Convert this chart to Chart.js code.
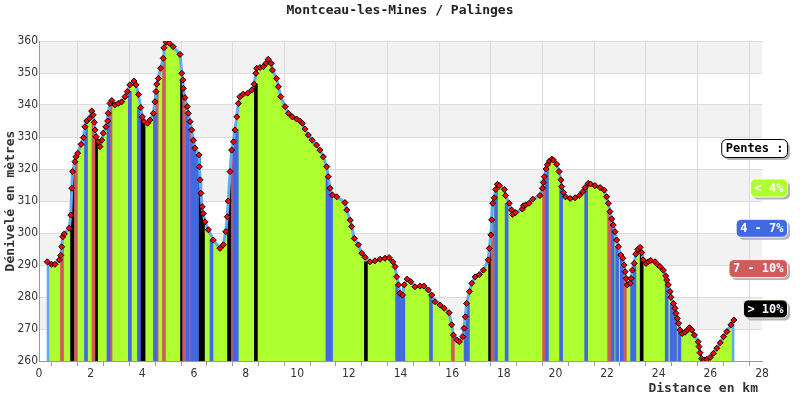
<!DOCTYPE html>
<html>
<head>
<meta charset="utf-8">
<script src="https://cdn.jsdelivr.net/npm/chart.js@4/dist/chart.umd.min.js"></script>
<style>
  body { margin: 0; background: #fff; }
</style>
</head>
<body>
<canvas id="profil" width="800" height="400"></canvas>
<script>
// Profil : distance (km) et altitude (m)
const distKm = [0.32,0.49,0.62,0.79,0.84,0.88,0.92,0.98,1.17,1.23,1.27,1.30,1.39,1.43,1.50,1.63,1.72,1.78,1.85,1.95,
  2.04,2.10,2.14,2.17,2.21,2.30,2.36,2.43,2.49,2.59,2.66,2.68,2.75,2.82,2.94,3.07,3.20,3.33,3.42,3.52,
  3.68,3.76,3.85,3.94,4.00,4.07,4.21,4.30,4.43,4.49,4.53,4.56,4.62,4.71,4.81,4.84,4.92,5.05,5.20,5.46,
  5.53,5.57,5.59,5.65,5.74,5.78,5.85,5.91,5.98,6.04,6.20,6.21,6.24,6.27,6.32,6.36,6.43,6.56,6.75,7.01,
  7.14,7.23,7.29,7.33,7.40,7.46,7.53,7.59,7.66,7.72,7.78,7.91,8.08,8.24,8.33,8.40,8.43,8.56,8.69,8.79,
  8.88,8.99,9.04,9.20,9.27,9.36,9.53,9.66,9.81,9.98,10.11,10.20,10.30,10.43,10.58,10.75,10.88,11.01,11.14,11.20,
  11.27,11.36,11.53,11.85,11.92,12.05,12.11,12.21,12.37,12.50,12.63,12.82,13.01,13.21,13.40,13.56,13.70,13.79,13.85,13.92,
  13.98,14.08,14.14,14.26,14.40,14.56,14.76,14.91,15.08,15.21,15.34,15.53,15.69,15.88,15.98,16.05,16.18,16.28,16.41,16.46,
  16.51,16.56,16.67,16.76,16.89,17.05,17.21,17.40,17.44,17.50,17.53,17.57,17.63,17.69,17.75,17.83,18.02,18.07,18.21,18.30,
  18.34,18.46,18.72,18.76,18.85,18.98,19.12,19.40,19.50,19.53,19.57,19.64,19.69,19.77,19.86,19.92,20.05,20.14,20.21,20.24,
  20.31,20.39,20.57,20.76,20.93,21.06,21.15,21.27,21.36,21.53,21.73,21.89,21.98,22.05,22.11,22.18,22.24,22.31,22.37,22.44,
  22.53,22.61,22.66,22.70,22.74,22.78,22.89,22.93,22.98,23.05,23.11,23.19,23.28,23.34,23.40,23.51,23.60,23.69,23.86,23.95,
  24.05,24.18,24.27,24.31,24.37,24.44,24.47,24.57,24.63,24.67,24.72,24.77,24.82,24.91,25.02,25.11,25.19,25.28,25.38,25.53,
  25.56,25.60,25.66,25.75,25.86,25.99,26.12,26.25,26.38,26.51,26.64,26.80,26.91];
const altitude = [291,290.2,290.2,291.6,293,295.7,298.8,299.7,301.5,305.6,314,319.2,322.3,323.8,324.9,327.7,329.8,333.2,335,335.8,
  338.1,336.9,334.6,332.2,330.1,328.5,327,329,331.2,333.2,335,337.4,340.5,341.4,340,340.5,341,342.6,344.2,346.3,
  347.5,346.3,343.3,339.2,336.3,334.8,334.3,335.3,337.4,341,344.2,346.5,348.3,351.5,354.6,357.9,359.6,359.3,358.2,355.8,
  349.9,347.8,345.2,342.3,339.5,337.4,334.8,332.2,329,326.5,324.4,320.7,316.6,312.4,308.2,306.1,303.5,301,297.8,295.2,
  296.3,300.4,305.1,310,319.2,325.9,328.5,332.2,336.3,340.5,342.6,343.4,343.7,344.7,346.5,349.9,351.5,351.7,352,353,
  354.3,353,350.9,348.3,345.7,342.6,339.5,337.4,336.3,335.6,335,334.3,332.5,330.6,329,327.5,325.9,323.8,320.7,317.6,
  314,311.9,311.3,309.5,307.2,304,302,298.3,296.3,293.7,292.4,291,291.3,291.8,292.1,292.3,291,289.5,286.3,283.8,
  281.2,280.6,283.8,285.6,284.8,283.2,283.4,283.4,282.2,280.6,278.5,277.5,276.5,275.1,271.3,268.1,266.6,266,267.6,270.2,
  273.8,278,281.7,284.3,286.3,287,288.4,291.6,295.2,299.4,304.1,309.3,311,313.6,315.2,314.8,313.6,311.7,309.3,307.2,
  305.8,306.4,307.5,308.5,308.8,309.3,310.6,311.7,314,315.8,317.6,320,321.3,322.5,323.1,322.8,321.5,319.2,316.6,314.5,
  312.7,311.3,310.8,311,311.7,312.9,314.2,315.5,315.3,314.8,314.2,313.4,311.3,309.3,306.7,304.4,302.5,300.4,297.8,295.7,
  293.1,292.1,290,287.9,285.8,283.8,284.3,285.8,288.4,290.5,293.4,294.9,295.5,293.9,291.6,290.5,291,291.4,291,290.2,
  289.5,288.4,286.6,285.3,283.8,281.7,279.9,278,276.5,274.9,273.3,271.8,269.7,268.6,269,269.7,270.4,269.7,268.1,266,
  264.5,262.6,260.8,260.3,260.5,261.1,262.4,264,265.7,267.6,269.2,271.3,272.8];

// Bandes de pente : position (km) et classe (c = bord, b = 4-7%, r = 7-10%, k = >10%)
const stripeKm = [0.35,0.89,1.28,1.36,1.43,1.82,2.11,2.21,2.69,2.77,3.52,3.87,3.97,4.05,4.49,4.56,4.84,5.54,5.62,5.75,
  5.85,5.93,6.02,6.12,6.20,6.29,6.35,6.68,7.36,7.44,7.51,7.57,7.66,8.40,11.17,11.24,11.31,12.66,13.87,13.98,
  14.11,15.18,16.03,16.52,16.61,17.47,17.56,17.70,18.11,19.56,19.61,19.67,20.22,21.19,22.08,22.22,22.39,22.57,22.69,22.97,
  23.06,23.34,24.31,24.50,24.63,24.80,26.88];
const stripeClass = ['c','r','k','k','r','b','r','k','b','r','b','b','k','k','b','r','r','k','r','b',
  'r','b','b','b','k','k','k','b','k','k','r','b','b','k','b','r','b','k','b','b',
  'b','b','r','b','b','k','r','b','b','r','k','b','b','b','r','b','b','b','r','b',
  'b','k','b','b','b','b','c'];

const xTicks = [0, 28];
const yTicks = [260, 360];
const legendLabels = ['< 4%', '4 - 7%', '7 - 10%', '> 10%'];

const classColors = { g: '#adff2f', b: '#4169e1', r: '#cd5c5c', k: '#000000', c: '#64aaf0' };
const legendColors = [classColors.g, classColors.b, classColors.r, classColors.k];

function topAt(x) {
  for (let i = 0; i < distKm.length - 1; i++) {
    if (x >= distKm[i] && x <= distKm[i + 1]) return Math.min(altitude[i], altitude[i + 1]);
  }
  return x < distKm[0] ? altitude[0] : altitude[altitude.length - 1];
}

function stripeSet(cls) {
  const pts = [];
  stripeKm.forEach((k, i) => { if (stripeClass[i] === cls) pts.push({ x: k, y: [yTicks[0], topAt(k)] }); });
  return {
    type: 'bar', data: pts, backgroundColor: classColors[cls],
    barThickness: cls === 'c' ? 2 : 3, grouped: false, borderWidth: 0
  };
}

const MONO = "'DejaVu Sans Mono', monospace";

const decorPlugin = {
  id: 'decor',
  beforeDraw(chart) {
    const { ctx, chartArea: a, scales: { y } } = chart;
    ctx.save();
    ctx.fillStyle = '#f2f2f2';
    for (let v = 270; v < 360; v += 20) {
      const t = y.getPixelForValue(v + 10), b = y.getPixelForValue(v);
      ctx.fillRect(a.left, t, a.right - a.left, b - t);
    }
    ctx.restore();
  },
  afterDraw(chart) {
    const { ctx, chartArea: a } = chart;
    ctx.save();
    ctx.font = 'bold 13px ' + MONO;
    ctx.fillStyle = '#222';
    ctx.textAlign = 'center';
    ctx.textBaseline = 'middle';
    ctx.fillText('Montceau-les-Mines / Palinges', 400, 11);
    ctx.textAlign = 'right';
    ctx.fillStyle = '#333';
    ctx.fillText('Distance en km', 758, 389);
    ctx.save();
    ctx.translate(11, (a.top + a.bottom) / 2);
    ctx.rotate(-Math.PI / 2);
    ctx.textAlign = 'center';
    ctx.fillText('Dénivelé en mètres', 0, 0);
    ctx.restore();

    // légende des pentes
    ctx.font = 'bold 12px ' + MONO;
    const box = (text, cy, fill, stroke, color) => {
      const w = ctx.measureText(text).width + 8, h = 18, x = 787 - w, yy = cy - h / 2;
      ctx.fillStyle = '#b4b4b4';
      ctx.beginPath(); ctx.roundRect(x + 3, yy + 3, w, h, 5); ctx.fill();
      ctx.fillStyle = fill; ctx.strokeStyle = stroke; ctx.lineWidth = 1;
      ctx.beginPath(); ctx.roundRect(x + 0.5, yy + 0.5, w, h, 5); ctx.fill(); ctx.stroke();
      ctx.fillStyle = color; ctx.textAlign = 'left'; ctx.textBaseline = 'middle';
      ctx.fillText(text, x + 4.5, cy + 1);
    };
    box('Pentes :', 148, '#ffffff', '#000000', '#000000');
    legendLabels.forEach((t, i) => box(t, 187.5 + i * 40.3, legendColors[i], '#fffbe0', '#ffffff'));
    ctx.restore();
  }
};

new Chart(document.getElementById('profil'), {
  type: 'line',
  data: {
    datasets: [{
      data: distKm.map((k, i) => ({ x: k, y: altitude[i] })),
      borderColor: classColors.c,
      borderWidth: 3,
      backgroundColor: classColors.g,
      fill: 'start',
      tension: 0,
      pointStyle: 'rectRot',
      pointRadius: 3,
      pointBackgroundColor: '#ff0000',
      pointBorderColor: '#000000',
      pointBorderWidth: 1
    }, stripeSet('c'), stripeSet('b'), stripeSet('r'), stripeSet('k')]
  },
  options: {
    responsive: false,
    animation: false,
    events: [],
    layout: { padding: { top: 41, right: 38, left: 0, bottom: 0 } },
    plugins: {
      legend: { display: false },
      tooltip: { enabled: false },
      filler: { drawTime: 'beforeDatasetsDraw' }
    },
    scales: {
      x: {
        type: 'linear', min: xTicks[0], max: xTicks[1], offset: false,
        afterFit: s => { s.height = 39; },
        ticks: {
          stepSize: 1, autoSkip: false, maxRotation: 0, padding: 1, color: '#333',
          font: { family: "'DejaVu Sans Condensed', 'DejaVu Sans', sans-serif", size: 12 },
          callback: v => (v % 2 === 0 ? v : '')
        },
        grid: {
          color: c => (c.tick && c.tick.value % 2 === 0 ? '#dcdcdc' : 'rgba(0,0,0,0)'),
          tickColor: '#999', tickLength: 5
        },
        border: { color: '#999' }
      },
      y: {
        min: yTicks[0], max: yTicks[1],
        afterFit: s => { s.width = 39; },
        ticks: {
          stepSize: 10, padding: 1, color: '#333',
          font: { family: "'DejaVu Sans Condensed', 'DejaVu Sans', sans-serif", size: 12 }
        },
        grid: { color: '#dcdcdc', drawTicks: false },
        border: { color: '#999' }
      }
    }
  },
  plugins: [decorPlugin]
});
</script>
</body>
</html>
